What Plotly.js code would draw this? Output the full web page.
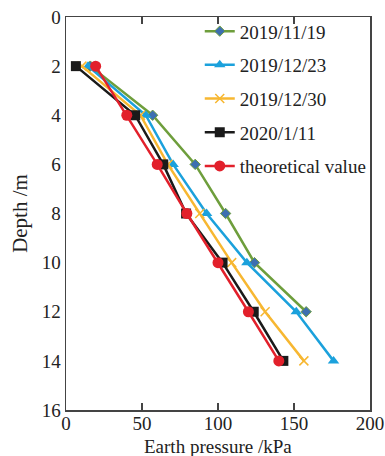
<!DOCTYPE html>
<html><head><meta charset="utf-8">
<script src="https://cdn.plot.ly/plotly-3.0.1.min.js"></script>
<style>html,body{margin:0;padding:0;background:#fff}#c{width:385px;height:456px}</style>
</head><body><div id="c"></div>
<script>
const depth = [2, 4, 6, 8, 10, 12, 14];
const s1119 = [16, 57, 85, 105, 124, 158];
const s1223 = [14.5, 52.5, 70.5, 92.5, 119, 151.5, 176];
const s1230 = [10.5, 49, 67, 88, 109, 131, 156.5];
const s0111 = [6.5, 45.5, 64, 79, 103, 123.5, 143];
const theo = [19.5, 40, 60, 79.5, 100, 120, 140];
const names = ['2019/11/19', '2019/12/23', '2019/12/30', '2020/1/11', 'theoretical value'];
const xTicks = [0, 50, 100, 150, 200];
const yTicks = [0, 2, 4, 6, 8, 10, 12, 14, 16];

const F = '"Liberation Serif", "Times New Roman", Times, serif';
function tr(x, name, color, marker) {
  return {
    x: x, y: depth.slice(0, x.length), name: name, type: 'scatter', mode: 'lines+markers',
    legendgroup: name, line: {color: color, width: 2.5}, marker: marker, cliponaxis: false
  };
}
const data = [
  tr(s1119, names[0], '#6e9e3c', {symbol: 'diamond', size: 8, color: '#3d6fb0', line: {color: '#6e9e3c', width: 1}}),
  tr(s1223, names[1], '#1ba1dc', {symbol: 'triangle-up', size: 10, color: '#1ba1dc', line: {width: 0}}),
  tr(s1230, names[2], '#f7b731', {symbol: 'x-thin-open', size: 9, color: '#f7b731', line: {color: '#f7b731', width: 1.5}}),
  tr(s0111, names[3], '#1a1a1a', {symbol: 'square', size: 10, color: '#1a1a1a', line: {width: 0}}),
  tr(theo, names[4], '#e2202b', {symbol: 'circle', size: 11, color: '#e2202b', line: {width: 0}})
];
const layout = {
  width: 385, height: 456,
  margin: {l: 66, r: 15, t: 15, b: 46},
  paper_bgcolor: '#fff', plot_bgcolor: '#fff',
  font: {family: F, size: 19, color: '#222'},
  showlegend: true,
  legend: {x: 0.44, y: 1.012, xanchor: 'left', yanchor: 'top', bgcolor: 'rgba(0,0,0,0)',
           font: {family: F, size: 19, color: '#222'}, tracegroupgap: 6, itemwidth: 30},
  xaxis: {range: [0, 200], tickvals: xTicks, ticks: 'inside', ticklen: 7, tickcolor: '#444', tickwidth: 1.3,
          showgrid: false, zeroline: false, showline: true, linecolor: '#444', linewidth: 1.5, mirror: 'ticks',
          automargin: false, ticklabelstandoff: -4, tickfont: {family: F, size: 19}},
  yaxis: {range: [16, 0], tickvals: yTicks, ticks: '', showgrid: false, zeroline: false,
          showline: true, linecolor: '#444', linewidth: 1.5, mirror: true, automargin: false,
          title: {text: 'Depth /m', font: {family: F, size: 21}, standoff: 8},
          tickfont: {family: F, size: 19}},
  annotations: [{text: 'Earth pressure /kPa', xref: 'paper', yref: 'paper', x: 0.5, y: 0,
                 xanchor: 'center', yanchor: 'top', yshift: -24, showarrow: false,
                 font: {family: F, size: 19, color: '#222'}}]
};
Plotly.newPlot('c', data, layout, {staticPlot: true, displayModeBar: false});
</script></body></html>
